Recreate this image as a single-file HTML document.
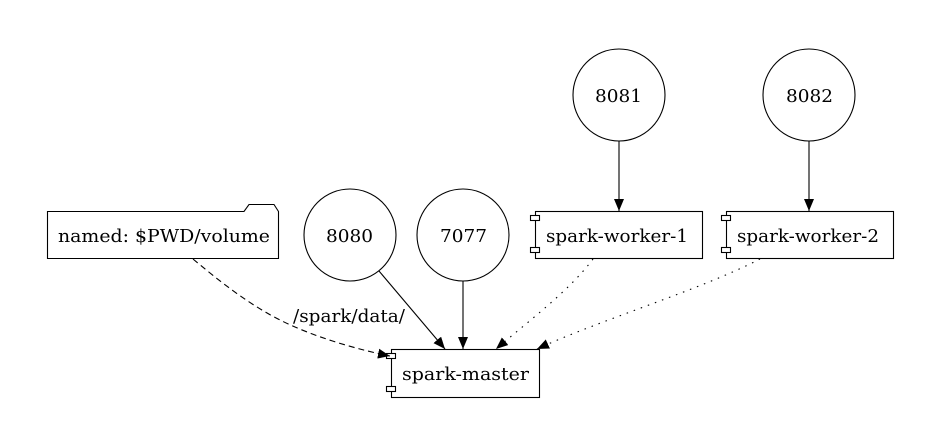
<!DOCTYPE html>
<html><head><style>
html,body{margin:0;padding:0;background:#fff;}
svg{display:block;}
</style></head><body>
<svg width="941" height="445" viewBox="0 0 941 445" xmlns="http://www.w3.org/2000/svg">
<defs>
<marker id="a" markerWidth="12" markerHeight="10" refX="12" refY="5" orient="auto" markerUnits="userSpaceOnUse">
<path d="M0,0 L12,5 L0,10 Z" fill="#000"/>
</marker>
</defs>
<g fill="none" stroke="#000" stroke-width="1.1">
<path d="M47.5,211.5 H244 L249,204.5 H274 L278.5,211.5 V258.5 H47.5 Z" fill="#fff"/>
<circle cx="350" cy="235" r="46"/>
<circle cx="463" cy="235" r="46"/>
<circle cx="619" cy="95" r="46"/>
<circle cx="809" cy="95" r="46"/>
<rect x="391.5" y="349.5" width="148" height="48" fill="#fff"/>
<rect x="386.5" y="353.5" width="9" height="5" fill="#fff"/>
<rect x="386.5" y="386.5" width="9" height="5" fill="#fff"/>
<rect x="535.5" y="211.5" width="167" height="47" fill="#fff"/>
<rect x="530.5" y="215.5" width="9" height="5" fill="#fff"/>
<rect x="530.5" y="247.5" width="9" height="5" fill="#fff"/>
<rect x="726.5" y="211.5" width="167" height="47" fill="#fff"/>
<rect x="721.5" y="215.5" width="9" height="5" fill="#fff"/>
<rect x="721.5" y="247.5" width="9" height="5" fill="#fff"/>
<line x1="619" y1="141" x2="619" y2="211" marker-end="url(#a)"/>
<line x1="809" y1="141" x2="809" y2="211" marker-end="url(#a)"/>
<line x1="463" y1="281" x2="463" y2="349" marker-end="url(#a)"/>
<line x1="379" y1="271" x2="445" y2="349" marker-end="url(#a)"/>
<path d="M193,259 C230,290 260,312 295,327 C325,340 360,350 390,356" stroke-dasharray="6,4" marker-end="url(#a)"/>
<path d="M593,259 C570,290 530,320 496,349" stroke-dasharray="1.5,6" marker-end="url(#a)"/>
<path d="M760,259 C700,290 600,320 537,349" stroke-dasharray="1.5,6" marker-end="url(#a)"/>
</g>
<g font-family="DejaVu Serif, Liberation Serif, serif" font-size="18" fill="#000">
<text x="58" y="242" textLength="212" lengthAdjust="spacingAndGlyphs">named: $PWD/volume</text>
<text x="326" y="242" textLength="47" lengthAdjust="spacingAndGlyphs">8080</text>
<text x="440" y="242" textLength="47" lengthAdjust="spacingAndGlyphs">7077</text>
<text x="595" y="102" textLength="47" lengthAdjust="spacingAndGlyphs">8081</text>
<text x="786" y="102" textLength="47" lengthAdjust="spacingAndGlyphs">8082</text>
<text x="402" y="380" textLength="127" lengthAdjust="spacingAndGlyphs">spark-master</text>
<text x="546" y="242" textLength="142" lengthAdjust="spacingAndGlyphs">spark-worker-1</text>
<text x="737" y="242" textLength="142" lengthAdjust="spacingAndGlyphs">spark-worker-2</text>
<text x="293" y="322" textLength="112" lengthAdjust="spacingAndGlyphs">/spark/data/</text>
</g>
</svg>
</body></html>
